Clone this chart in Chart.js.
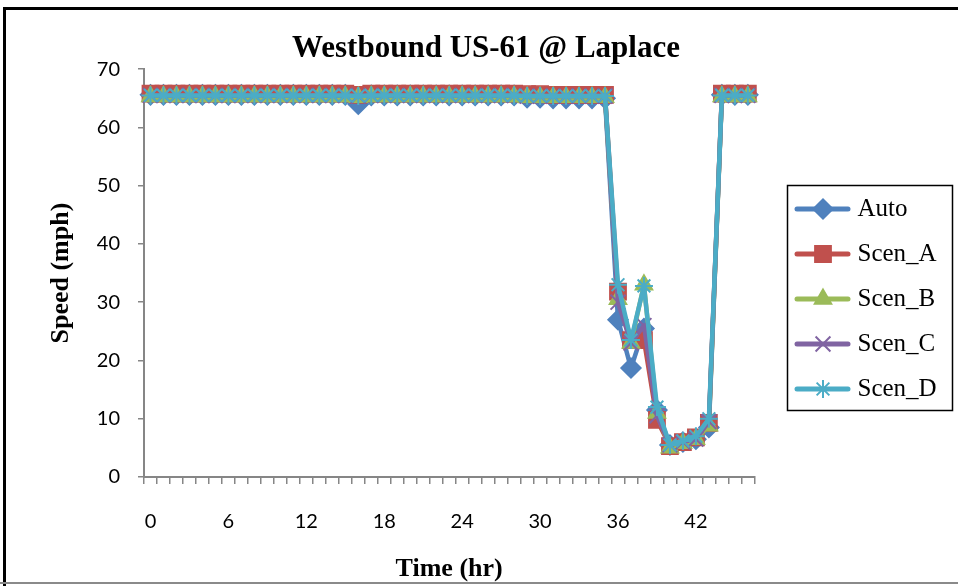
<!DOCTYPE html>
<html>
<head>
<meta charset="utf-8">
<script src="https://cdn.jsdelivr.net/npm/chart.js@4.4.1/dist/chart.umd.min.js"></script>
<style>
  html, body { margin: 0; padding: 0; background: #fff; }
  #wrap { width: 958px; height: 586px; }
</style>
</head>
<body>
<div id="wrap"><canvas id="c" width="958" height="586"></canvas></div>
<script>
// ---------- data ----------
const chartTitle = 'Westbound US-61 @ Laplace';
const xTitle = 'Time (hr)';
const yTitle = 'Speed (mph)';
const hours = ['0','1','2','3','4','5','6','7','8','9','10','11','12','13','14','15','16','17','18','19','20','21','22','23','24','25','26','27','28','29','30','31','32','33','34','35','36','37','38','39','40','41','42','43','44','45','46'];
const yTicks = [0, 10, 20, 30, 40, 50, 60, 70];
const seriesNames = ['Auto', 'Scen_A', 'Scen_B', 'Scen_C', 'Scen_D'];

const autoSpeed = [65.6,65.6,65.6,65.6,65.6,65.6,65.6,65.6,65.6,65.6,65.6,65.6,65.6,65.6,65.6,65.6,
  64.0,65.5,65.5,65.5,65.5,65.5,65.5,65.5,65.5,65.5,65.5,65.5,65.5,
  65.1,65.1,65.0,65.0,65.0,65.0,65.0,
  27.0,18.7,25.5,11.5,5.5,6.0,6.5,8.5,65.6,65.6,65.6];
const scenA = [65.8,65.8,65.8,65.8,65.8,65.8,65.8,65.8,65.8,65.8,65.8,65.8,65.8,65.8,65.8,65.8,
  65.6,65.8,65.8,65.8,65.8,65.8,65.8,65.8,65.8,65.8,65.8,65.8,65.8,
  65.7,65.7,65.6,65.6,65.6,65.6,65.6,
  31.8,23.5,23.5,9.8,5.3,6.0,6.8,9.3,65.8,65.8,65.8];
const scenB = [65.3,65.3,65.3,65.3,65.3,65.3,65.3,65.3,65.3,65.3,65.3,65.3,65.3,65.3,65.3,65.3,
  65.2,65.3,65.3,65.3,65.3,65.3,65.3,65.3,65.3,65.3,65.3,65.3,65.3,
  65.2,65.2,65.2,65.2,65.2,65.2,65.2,
  30.5,23.0,33.0,11.0,5.0,5.8,6.5,8.8,65.3,65.3,65.3];
const scenC = [65.5,65.5,65.5,65.5,65.5,65.5,65.5,65.5,65.5,65.5,65.5,65.5,65.5,65.5,65.5,65.5,
  65.4,65.5,65.5,65.5,65.5,65.5,65.5,65.5,65.5,65.5,65.5,65.5,65.5,
  65.4,65.4,65.4,65.4,65.4,65.4,65.4,
  30.0,23.0,26.0,10.5,5.5,6.0,6.5,9.5,65.5,65.5,65.5];
const scenD = [65.5,65.5,65.5,65.5,65.5,65.5,65.5,65.5,65.5,65.5,65.5,65.5,65.5,65.5,65.5,65.5,
  65.4,65.5,65.5,65.5,65.5,65.5,65.5,65.5,65.5,65.5,65.5,65.5,65.5,
  65.4,65.4,65.4,65.4,65.4,65.4,65.4,
  33.0,23.5,32.8,12.0,5.5,6.2,7.0,10.0,65.5,65.5,65.5];

const seriesValues = [autoSpeed, scenA, scenB, scenC, scenD];

// ---------- styles ----------
const colors = ['#4F81BD', '#C0504D', '#9BBB59', '#8064A2', '#4BACC6'];
const markers = ['rectRot', 'rect', 'triangle', 'crossRot', 'star'];
const markerRadius = [10, 11.5, 10, 10.5, 9];
const markerBorder = [1.5, 1.5, 1.5, 2, 2];

const serif = 'Liberation Serif';
const sans = 'Lato';

function makeLegendImage(i) {
  const cv = document.createElement('canvas');
  cv.width = 62; cv.height = 26;
  const g = cv.getContext('2d');
  g.strokeStyle = colors[i];
  g.fillStyle = colors[i];
  g.lineWidth = 5;
  g.lineCap = 'round';
  g.beginPath(); g.moveTo(8, 13); g.lineTo(59, 13); g.stroke();
  g.lineWidth = markerBorder[i];
  g.lineCap = 'butt';
  Chart.helpers.drawPoint(g, {
    pointStyle: markers[i], radius: markerRadius[i], borderWidth: markerBorder[i], rotation: 0
  }, 34, 13);
  return cv;
}

const datasets = seriesNames.map((name, i) => ({
  label: name,
  data: seriesValues[i],
  borderColor: colors[i],
  backgroundColor: colors[i],
  borderWidth: 4.5,
  borderJoinStyle: 'round',
  borderCapStyle: 'round',
  pointStyle: markers[i],
  pointRadius: markerRadius[i],
  pointBorderWidth: markerBorder[i],
  pointBackgroundColor: colors[i],
  pointBorderColor: colors[i],
  tension: 0,
  clip: false,
  order: seriesNames.length - i
}));

const LEG_PAD = 20;
const LEG_ITEM_X = 795;
const LEG_FIRST_Y = 209;

const framePlugin = {
  id: 'frame',
  beforeDraw(chart) {
    const g = chart.ctx;
    g.save();
    g.fillStyle = '#fff';
    g.fillRect(0, 0, chart.width, chart.height);
    g.restore();
  },
  afterLayout(chart) {
    const lg = chart.legend;
    if (!lg) return;
    const w = lg.width, h = lg.height;
    lg.left = LEG_ITEM_X - LEG_PAD;
    lg.right = lg.left + w;
    lg.top = LEG_FIRST_Y - 12.5 - LEG_PAD;
    lg.bottom = lg.top + h;
  },
  afterDraw(chart) {
    const g = chart.ctx;
    const lg = chart.legend;
    g.save();
    g.strokeStyle = '#000';
    g.lineWidth = 3;
    g.beginPath();
    g.moveTo(4.5, 590); g.lineTo(4.5, 8.5); g.lineTo(970, 8.5);
    g.stroke();
    g.strokeStyle = '#8a8a8a';
    g.lineWidth = 2;
    g.beginPath(); g.moveTo(0, 583); g.lineTo(958, 583); g.stroke();
    if (lg) {
      const x0 = lg.left + LEG_PAD - 8;
      const y0 = lg.top + LEG_PAD + 12.5 - 24;
      g.strokeStyle = '#000';
      g.lineWidth = 1.5;
      g.strokeRect(x0 + 0.5, y0 + 0.5, 165, 225);
    }
    g.restore();
  }
};

new Chart(document.getElementById('c'), {
  type: 'line',
  data: { labels: hours, datasets: datasets },
  options: {
    responsive: false,
    animation: false,
    devicePixelRatio: 1,
    layout: { padding: { left: 46, right: 32, top: 0, bottom: 0 } },
    plugins: {
      title: {
        display: true, text: chartTitle, color: '#000',
        font: { family: serif, size: 31, weight: 'bold' },
        padding: { top: 30, bottom: 2 }
      },
      legend: {
        position: 'right', align: 'start',
        labels: {
          color: '#000',
          font: { family: serif, size: 25 },
          usePointStyle: true,
          pointStyleWidth: 50,
          padding: LEG_PAD,
          generateLabels(chart) {
            return chart.data.datasets.map((ds, i) => ({
              text: ds.label,
              pointStyle: makeLegendImage(i),
              fillStyle: colors[i],
              strokeStyle: colors[i],
              lineWidth: 0,
              hidden: false,
              datasetIndex: i,
              fontColor: '#000'
            }));
          }
        }
      },
      tooltip: { enabled: false }
    },
    scales: {
      x: {
        type: 'category',
        offset: true,
        grid: { offset: true, drawOnChartArea: false, drawTicks: true, tickLength: 7, color: '#868686', lineWidth: 1.5 },
        border: { display: true, color: '#868686', width: 2 },
        ticks: {
          autoSkip: false, maxRotation: 0, minRotation: 0, padding: 26, color: '#000',
          font: { family: sans, size: 20 },
          callback(v, i) { return (i % 6 === 0) ? this.getLabelForValue(v) : ''; }
        },
        title: {
          display: true, text: xTitle, color: '#000',
          font: { family: serif, size: 26, weight: 'bold' },
          padding: { top: 18, bottom: 1 }
        },
        afterFit(s) { s.height = 109; }
      },
      y: {
        min: yTicks[0], max: yTicks[yTicks.length - 1],
        afterBuildTicks(s) { s.ticks = yTicks.map(v => ({ value: v })); },
        grid: { drawOnChartArea: false, drawTicks: true, tickLength: 6, color: '#868686', lineWidth: 1.5 },
        border: { display: true, color: '#868686', width: 2 },
        ticks: { padding: 18, color: '#000', font: { family: sans, size: 20 } },
        title: {
          display: true, text: yTitle, color: '#000',
          font: { family: serif, size: 26, weight: 'bold' },
          padding: { top: 0, bottom: 0 }
        },
        afterFit(s) { s.width = 98; }
      }
    }
  },
  plugins: [framePlugin]
});
</script>
</body>
</html>
